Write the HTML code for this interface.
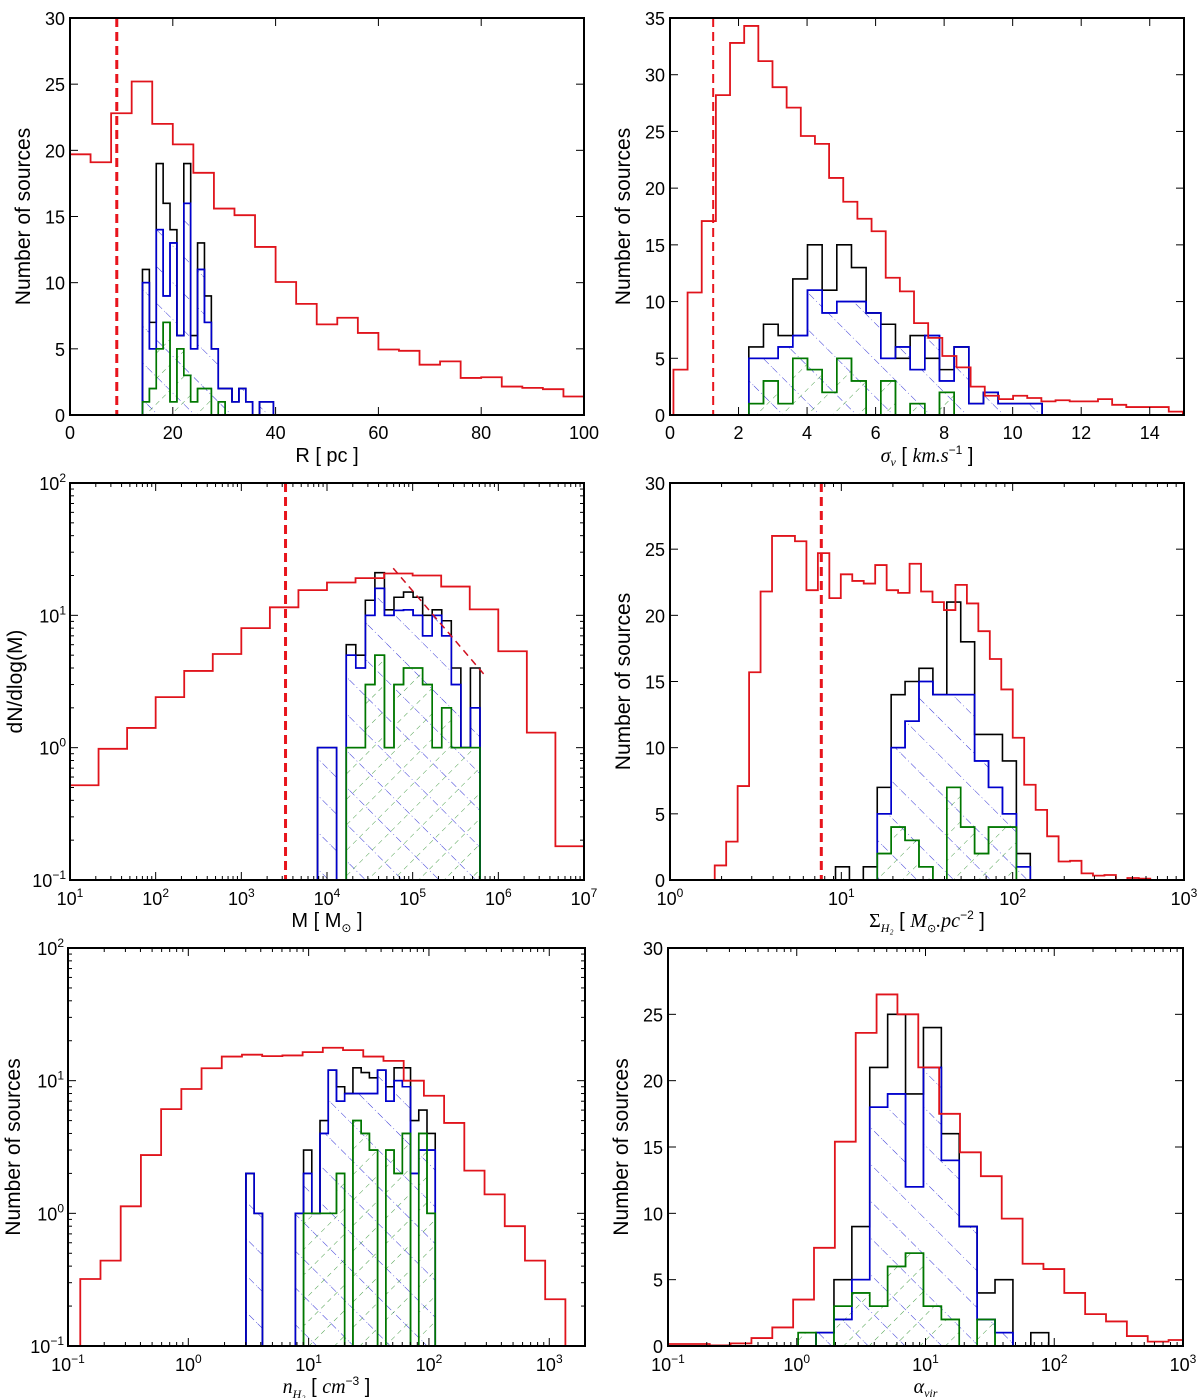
<!DOCTYPE html>
<html><head><meta charset="utf-8"><style>
html,body{margin:0;padding:0;background:#fff;}
svg{display:block;font-family:"Liberation Sans","DejaVu Sans",sans-serif;}
</style></head>
<body>
<svg id="fig" width="1200" height="1398" viewBox="0 0 1200 1398" xmlns="http://www.w3.org/2000/svg">
<defs>
<pattern id="hatchBlue" patternUnits="userSpaceOnUse" width="26" height="26" patternTransform="rotate(-45)">
<line x1="0" y1="0" x2="0" y2="26" stroke="#0000cc" stroke-width="0.8" stroke-dasharray="7,3,1,3"/>
</pattern>
<pattern id="hatchGreen" patternUnits="userSpaceOnUse" width="18" height="18" patternTransform="rotate(45)">
<line x1="0" y1="0" x2="0" y2="18" stroke="#007700" stroke-width="0.7" stroke-dasharray="5,4"/>
</pattern>
</defs>
</svg>
<script>
// ---------- Panel 1: R [pc] ----------
const p1RedStart = 0, p1RedWidth = 4;
const p1Red = [19.7,19.1,22.8,25.2,22.0,20.45,18.3,15.6,15.1,12.7,10.05,8.4,6.85,7.35,6.2,4.95,4.85,3.8,4.05,2.8,2.85,2.15,2.05,1.95,1.4];
const p1SubStart = 14.1, p1SubWidth = 1.34;
const p1Black = [11,7,19,16,14,6,19,6,13,9,5,2,2,1,2,1,0,1,1];
const p1Blue  = [10,5,14,9,13,6,16,5,11,7,5,2,2,1,2,1,0,1,1];
const p1Green = [1,2,5,7,1,5,3,1,2,2,0,1];
const p1Cut = 9.1;
const p1YTicks = [0,5,10,15,20,25,30];
const p1XTicks = [0,20,40,60,80,100];

// ---------- Panel 2: sigma_v ----------
const p2RedStart = 0.1, p2RedWidth = 0.413;
const p2Red = [4,10.8,17.1,28.2,32.8,34.3,31.2,28.9,27.1,24.6,23.9,20.9,18.8,17.3,16.2,12.1,10.9,8.1,6.8,5.2,4.2,2.5,1.7,1.4,1.7,1.5,1.2,1.3,1.2,1.2,1.4,0.9,0.7,0.7,0.7,0.3];
const p2SubStart = 2.3, p2SubWidth = 0.428;
const p2Black = [6,8,7,12,15,11,15,13,9,8,5,7,5,4,6,1,2,1,1,1];
const p2Blue  = [5,5,6,7,11,9,10,10,9,5,6,4,7,3,6,1,2,1,1,1];
const p2Green = [1,3,1,5,4,2,5,3,0,3,0,1,0,2,0];
const p2Cut = 1.26;
const p2YTicks = [0,5,10,15,20,25,30,35];
const p2XTicks = [0,2,4,6,8,10,12,14];

// ---------- Panel 3: M (log-log) ----------
const p3RedStart = 1, p3RedWidth = 0.3333;
const p3Red = [0.52,0.98,1.41,2.41,3.8,5.1,8.0,11.5,15.5,17.7,19.1,20.7,20,16.5,11.1,5.35,1.3,0.18];
const p3SubStart = 3.89, p3SubWidth = 0.1115;
const p3Black = [1,1,0,6,5,13,21,11,13.7,15,13.7,10,11,9.1,4,1,4];
const p3Blue  = [1,1,0,5,4,10,16,10,10.9,11,10,7,10,7,3,1,2];
const p3Green = [0,0,0,1,1,3,5,1,3,4,4,3,1,2,1,1,1];
const p3Cut = 3280;
const p3FitX = [5.93e4, 6.76e5];
const p3FitY = [22.7, 3.6];
const p3YTicks = [-1,0,1,2];
const p3XTicks = [1,2,3,4,5,6,7];

// ---------- Panel 4: Sigma_H2 (log x) ----------
const p4RedStart = 0.261, p4RedWidth = 0.0669;
const p4Red = [1.1,2.9,7.1,15.7,21.8,26.0,26.0,25.6,21.9,24.7,21.3,23.1,22.6,22.4,23.8,21.9,21.7,23.9,21.8,21.0,20.4,22.3,20.9,18.8,16.7,14.4,10.75,7.2,5.3,3.3,1.4,1.45,0.5,0.33,0.38,0,0.15,0.1,0];
const p4SubStart = 0.966, p4SubWidth = 0.0812;
const p4Black = [1,0,1,7,14,15,16,14,21,18,11,11,9,2];
const p4Blue  = [0,0,0,5,10,12,15,14,14,14,9,7,5,1];
const p4Green = [0,0,0,2,4,3,1,0,7,4,2,4,4,0];
const p4Cut = 7.64;
const p4YTicks = [0,5,10,15,20,25,30];
const p4XTicks = [0,1,2,3];

// ---------- Panel 5: n_H2 (log-log) ----------
const p5RedStart = -0.898, p5RedWidth = 0.168;
const p5Red = [0.32,0.44,1.13,2.75,6.1,8.65,12.4,15.2,15.7,15.3,15.5,16.4,17.7,17,15.2,14.1,10,7.7,4.8,2.1,1.39,0.8,0.44,0.225];
const p5SubStart = 0.479, p5SubWidth = 0.0684;
const p5Black = [2,1,0,0,0,0,1,3,1,5,12,9,8,12.5,11.5,10.5,12,9,12.5,12.5,5,6,4];
const p5Blue  = [2,1,0,0,0,0,1,2,1,4,12,7,8,8,8,8,12,7,10,9,2,3,3];
const p5Green = [0,0,0,0,0,0,0,1,1,1,1,2,0,5,4,3,0,3,2,4,0,4,1];
const p5YTicks = [-1,0,1,2];
const p5XTicks = [-1,0,1,2,3];

// ---------- Panel 6: alpha_vir (log x) ----------
const p6RedStart = -1.0, p6RedWidth = 0.162;
const p6Red = [0.15,0.15,0.05,0.2,0.6,1.4,3.5,7.4,15.4,23.6,26.5,25.0,21.0,17.5,14.6,12.8,9.6,6.2,5.8,4.0,2.4,1.85,0.75,0.33,0.45];
const p6SubStart = 0.011, p6SubWidth = 0.139;
const p6Black = [0,1,5,9,21,25,19,24,16,9,4,5,0,1];
const p6Blue  = [0,1,2,5,18,19,12,21,14,9,2,1,0,0];
const p6Green = [1,0,3,4,3,6,7,3,2,0,2,0,0,0];
const p6YTicks = [0,5,10,15,20,25,30];
const p6XTicks = [-1,0,1,2,3];

const NS = "http://www.w3.org/2000/svg";
const svg = document.getElementById('fig');
function el(tag, attrs, parent){
  const e = document.createElementNS(NS, tag);
  for (const k in attrs) e.setAttribute(k, attrs[k]);
  (parent||svg).appendChild(e);
  return e;
}
function scale(min, max, p0, p1, log){
  return v => {
    const t = log ? Math.log10(v) : v;
    return p0 + (t - min) / (max - min) * (p1 - p0);
  };
}

function makePanel(cfg){
  const g = el('g', {});
  
  
  const sx = scale(cfg.xmin, cfg.xmax, cfg.l, cfg.r, cfg.xlog);
  const sy = scale(cfg.ymin, cfg.ymax, cfg.b, cfg.t, cfg.ylog);
  const cid = 'clip-' + cfg.name;
  const cp = el('clipPath', {id: cid}, g);
  el('rect', {x: cfg.l, y: cfg.t, width: cfg.r - cfg.l, height: cfg.b - cfg.t}, cp);
  const plot = el('g', {'clip-path': 'url(#' + cid + ')'}, g);
  
  
  return {g, plot, sx, sy, cfg};
}

function yOf(P, v){
  const c = P.cfg;
  if (c.ylog && v <= 0) return c.b + 2;
  return P.sy(v);
}
function xOf(P, logx, start, w, i){
  const v = start + i * w;
  return logx ? P.sx(Math.pow(10, v)) : P.sx(v);
}
function hist(P, start, w, vals, color, sw, name, pattern){
  const c = P.cfg;
  const base = c.b + 2;
  let d = 'M' + xOf(P, c.xlog, start, w, 0).toFixed(2) + ',' + base;
  for (let i = 0; i < vals.length; i++){
    const x0 = xOf(P, c.xlog, start, w, i), x1 = xOf(P, c.xlog, start, w, i + 1);
    const y = yOf(P, vals[i]);
    d += ' L' + x0.toFixed(2) + ',' + y.toFixed(2) + ' L' + x1.toFixed(2) + ',' + y.toFixed(2);
  }
  d += ' L' + xOf(P, c.xlog, start, w, vals.length).toFixed(2) + ',' + base;
  if (pattern){
    const f = el('path', {d: d + ' Z', fill: 'url(#' + pattern + ')', stroke: 'none'}, P.plot);
    
    
  }
  const p = el('path', {d: d, fill: 'none', stroke: color, 'stroke-width': sw, 'stroke-linejoin': 'miter'}, P.plot);
  
  
}
function vline(P, v, name){
  const x = P.sx(v);
  const l = el('line', {x1: x, x2: x, y1: P.cfg.t, y2: P.cfg.b, stroke: '#e8141c', 'stroke-width': P.cfg.cutW || 3, 'stroke-dasharray': '9,5'}, P.plot);
  
  
}

function supLabel(parent, x, y, exp, anchor){
  const t = el('text', {x: x, y: y, 'font-size': 18, 'text-anchor': anchor, fill: '#000'}, parent);
  
  
  t.appendChild(document.createTextNode('10'));
  const s = el('tspan', {dy: -8, 'font-size': 12}, t);
  s.textContent = String(exp).replace('-', '\u2212');
  return t;
}

function axes(P, xticks, yticks){
  const c = P.cfg, g = P.g;
  const ax = el('g', {}, g);
  
  
  const tick = (x1, y1, x2, y2) => el('line', {x1, y1, x2, y2, stroke: '#000', 'stroke-width': 1}, ax);
  xticks.forEach(v => {
    const x = c.xlog ? P.sx(Math.pow(10, v)) : P.sx(v);
    tick(x, c.b, x, c.b - 8); tick(x, c.t, x, c.t + 8);
    if (c.xlog) {
      const lab = supLabel(ax, x, c.b + 25, v, 'middle');
      
    } else {
      const t = el('text', {x: x, y: c.b + 24, 'font-size': 18, 'text-anchor': 'middle'}, ax);
      
      
      t.textContent = v;
    }
    if (c.xlog) {
      for (let k = 2; k <= 9; k++){
        const mv = v + Math.log10(k);
        if (mv > c.xmax) break;
        const mx = P.sx(Math.pow(10, mv));
        tick(mx, c.b, mx, c.b - 4); tick(mx, c.t, mx, c.t + 4);
      }
    }
  });
  yticks.forEach(v => {
    const y = c.ylog ? P.sy(Math.pow(10, v)) : P.sy(v);
    tick(c.l, y, c.l + 8, y); tick(c.r, y, c.r - 8, y);
    if (c.ylog) {
      const lab = supLabel(ax, c.l - 4, y + 7, v, 'end');
      
      for (let k = 2; k <= 9; k++){
        const mv = v + Math.log10(k);
        if (mv > c.ymax) break;
        const my = P.sy(Math.pow(10, mv));
        tick(c.l, my, c.l + 4, my); tick(c.r, my, c.r - 4, my);
      }
    } else {
      const t = el('text', {x: c.l - 5, y: y + 7, 'font-size': 18, 'text-anchor': 'end'}, ax);
      
      
      t.textContent = v;
    }
  });
  const fr = el('rect', {x: c.l, y: c.t, width: c.r - c.l, height: c.b - c.t, fill: 'none', stroke: '#000', 'stroke-width': 2}, ax);
  
  
  const yt = el('text', {x: 0, y: 0, 'font-size': 21, 'text-anchor': 'middle', transform: 'translate(' + (c.l - (c.ylog ? 48 : 40)) + ',' + ((c.t + c.b) / 2) + ') rotate(-90)'}, ax);
  
  
  yt.textContent = c.ytitle;
  const xt = el('text', {x: (c.l + c.r) / 2, y: c.b + 47, 'font-size': 20, 'text-anchor': 'middle'}, ax);
  
  
  xt.innerHTML = c.xtitle;
}

function drawAll(P, rs, rw, red, ss, sw, blk, blu, grn){
  hist(P, ss, sw, blu, '#0000cc', 1.6, 'blue-histogram', 'hatchBlue');
  hist(P, ss, sw, grn, '#007700', 1.6, 'green-histogram', 'hatchGreen');
  hist(P, ss, sw, blk, '#000', 1.6, 'black-histogram');
  hist(P, ss, sw, blu, '#0000cc', 1.6, 'blue-histogram-outline');
  hist(P, ss, sw, grn, '#007700', 1.6, 'green-histogram-outline');
  hist(P, rs, rw, red, '#e0141c', 1.8, 'red-histogram');
}

const NSRC = 'Number of sources';
let P = makePanel({name:'panel-radius', l:70, r:584, t:18, b:415, xmin:0, xmax:100, ymin:0, ymax:30, ytitle:NSRC, xtitle:'R [ pc ]'});
drawAll(P, p1RedStart, p1RedWidth, p1Red, p1SubStart, p1SubWidth, p1Black, p1Blue, p1Green);
vline(P, p1Cut, 'completeness-limit');
axes(P, p1XTicks, p1YTicks);

P = makePanel({name:'panel-velocity-dispersion', l:670, r:1184, t:18, b:415, xmin:0, xmax:15, ymin:0, ymax:35, ytitle:NSRC, cutW:2,
  xtitle:'<tspan font-family="Liberation Serif" font-style="italic">σ</tspan><tspan font-family="Liberation Serif" font-style="italic" font-size="12" dy="4">v</tspan><tspan dy="-4">  [ </tspan><tspan font-family="Liberation Serif" font-style="italic">km.s</tspan><tspan font-size="12" dy="-8">−1</tspan><tspan dy="8"> ]</tspan>'});
drawAll(P, p2RedStart, p2RedWidth, p2Red, p2SubStart, p2SubWidth, p2Black, p2Blue, p2Green);
vline(P, p2Cut, 'completeness-limit');
axes(P, p2XTicks, p2YTicks);

P = makePanel({name:'panel-mass', l:70, r:584, t:483, b:880, xmin:1, xmax:7, ymin:-1, ymax:2, xlog:true, ylog:true, ytitle:'dN/dlog(M)',
  xtitle:'M [ M<tspan font-size="12" dy="5">⊙</tspan><tspan dy="-5"> ]</tspan>'});
drawAll(P, p3RedStart, p3RedWidth, p3Red, p3SubStart, p3SubWidth, p3Black, p3Blue, p3Green);
vline(P, p3Cut, 'completeness-limit');
{
  const fit = el('line', {x1: P.sx(p3FitX[0]), y1: P.sy(p3FitY[0]), x2: P.sx(p3FitX[1]), y2: P.sy(p3FitY[1]), stroke:'#d01020', 'stroke-width':1.5, 'stroke-dasharray':'7,5'}, P.plot);
  
  
}
axes(P, p3XTicks, p3YTicks);

P = makePanel({name:'panel-surface-density', l:670, r:1184, t:483, b:880, xmin:0, xmax:3, ymin:0, ymax:30, xlog:true, ytitle:NSRC,
  xtitle:'<tspan font-family="Liberation Serif">Σ</tspan><tspan font-family="Liberation Serif" font-style="italic" font-size="12" dy="5">H₂</tspan><tspan dy="-5">  [ </tspan><tspan font-family="Liberation Serif" font-style="italic">M</tspan><tspan font-size="11" dy="5">⊙</tspan><tspan dy="-5" font-family="Liberation Serif" font-style="italic">.pc</tspan><tspan font-size="12" dy="-8">−2</tspan><tspan dy="8"> ]</tspan>'});
drawAll(P, p4RedStart, p4RedWidth, p4Red, p4SubStart, p4SubWidth, p4Black, p4Blue, p4Green);
vline(P, p4Cut, 'completeness-limit');
axes(P, p4XTicks, p4YTicks);

P = makePanel({name:'panel-density', l:68, r:585, t:948, b:1346, xmin:-1, xmax:3.297, ymin:-1, ymax:2, xlog:true, ylog:true, ytitle:NSRC,
  xtitle:'<tspan font-family="Liberation Serif" font-style="italic">n</tspan><tspan font-family="Liberation Serif" font-style="italic" font-size="12" dy="5">H₂</tspan><tspan dy="-5">  [ </tspan><tspan font-family="Liberation Serif" font-style="italic">cm</tspan><tspan font-size="12" dy="-8">−3</tspan><tspan dy="8"> ]</tspan>'});
drawAll(P, p5RedStart, p5RedWidth, p5Red, p5SubStart, p5SubWidth, p5Black, p5Blue, p5Green);
axes(P, p5XTicks, p5YTicks);

P = makePanel({name:'panel-virial-parameter', l:668, r:1183, t:948, b:1346, xmin:-1, xmax:3, ymin:0, ymax:30, xlog:true, ytitle:NSRC,
  xtitle:'<tspan font-family="Liberation Serif" font-style="italic">α</tspan><tspan font-family="Liberation Serif" font-style="italic" font-size="12" dy="4">vir</tspan>'});
drawAll(P, p6RedStart, p6RedWidth, p6Red, p6SubStart, p6SubWidth, p6Black, p6Blue, p6Green);
axes(P, p6XTicks, p6YTicks);
</script>
</body></html>
